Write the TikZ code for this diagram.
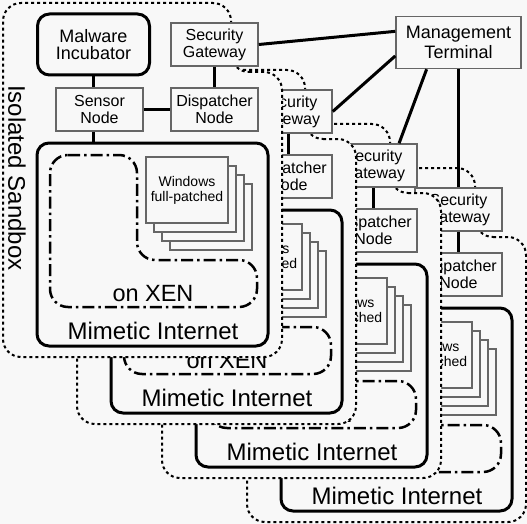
\documentclass[tikz,border=0pt]{standalone}
\usepackage{fontspec}
\setmainfont{Liberation Sans}
\usetikzlibrary{calc}
\definecolor{paper}{RGB}{248,248,248}

\begin{document}
\begin{tikzpicture}[x=1pt, y=-1pt,
    every node/.style={align=center, inner sep=0pt},
    sandbox/.style={draw, fill=paper, line width=2pt, dash pattern=on 3pt off 3pt, rounded corners=18pt},
    thinbox/.style={draw=black!60, fill=paper, line width=1.5pt, minimum width=87pt, minimum height=43pt, font=\fontsize{16}{17}\selectfont},
    thickbox/.style={draw, fill=paper, line width=3pt, rounded corners=12pt},
    winbox/.style={draw=black!60, fill=paper, line width=1.5pt, minimum width=82pt, minimum height=66pt},
    xenline/.style={line width=2.5pt, dash pattern=on 12pt off 4pt on 2.5pt off 4pt, rounded corners=18pt},
    wire/.style={line width=3pt}]
    \fill[paper] (0,0) rectangle (527,524);
    \useasboundingbox (0,0) rectangle (527,524);

    % back copies first, the front sandbox last
    \foreach \dx/\dy/\k in {244/165/3, 159/121/2, 74/67/1, 0/0/0} {
      \begin{scope}[shift={(\dx,\dy)}]
        \draw[sandbox] (231,72) -- (282,72) -- (282,357) -- (3,357) -- (3,3) -- (231,3) -- cycle;
        \node[rotate=-90, font=\fontsize{24}{26}\selectfont] (iso\k) at (17,178) {Isolated Sandbox};

        \node[thickbox, minimum width=112pt, minimum height=61pt, font=\fontsize{18}{17}\selectfont] (mi\k) at (93.5,44.5) {Malware\\Incubator};
        \node[thinbox] (gw\k) at (214.5,44.5) {Security\\Gateway};
        \node[thinbox] (sn\k) at (99.5,109.5) {Sensor\\Node};
        \node[thinbox] (dn\k) at (214.5,109.5) {Dispatcher\\Node};
        \node[thickbox, minimum width=231pt, minimum height=203pt] (net\k) at (152.5,244.5) {};
        \node[anchor=base, font=\fontsize{24}{26}\selectfont] (nettxt\k) at (153,339) {Mimetic Internet};

        \draw[xenline] (50,155) -- (137,155) -- (137,260) -- (257,260) -- (257,307) -- (50,307) -- cycle;
        \node[anchor=base, font=\fontsize{23.5}{26}\selectfont] (xen\k) at (153,301) {on XEN};

        \foreach \i in {3,2,1}
          \node[winbox] (win\k\i) at ({187+8*\i},{190+9*\i}) {};
        \node[winbox, font=\fontsize{14}{15}\selectfont] (win\k0) at (187,190) {Windows\\full-patched};

        \draw[wire] (mi\k.south) -- (mi\k.south |- sn\k.north);
        \draw[wire] (mi\k.south |- sn\k.south) -- (mi\k.south |- net\k.north);
        \draw[wire] (sn\k.east) -- (dn\k.west);
        \draw[wire] (gw\k.south) -- (dn\k.north);
      \end{scope}
    }

    \node[thinbox, minimum width=125pt, minimum height=52pt, font=\fontsize{18}{20}\selectfont] (mt) at (458.5,42.5) {Management\\Terminal};

    \draw[wire] (gw0.east) -- (mt.170);
    \draw[wire] (gw1.east) -- (mt.192);
    \draw[wire] (gw2.41) -- (mt.220);
    \draw[wire] (gw3.north) -- (mt.south);
\end{tikzpicture}
\end{document}
